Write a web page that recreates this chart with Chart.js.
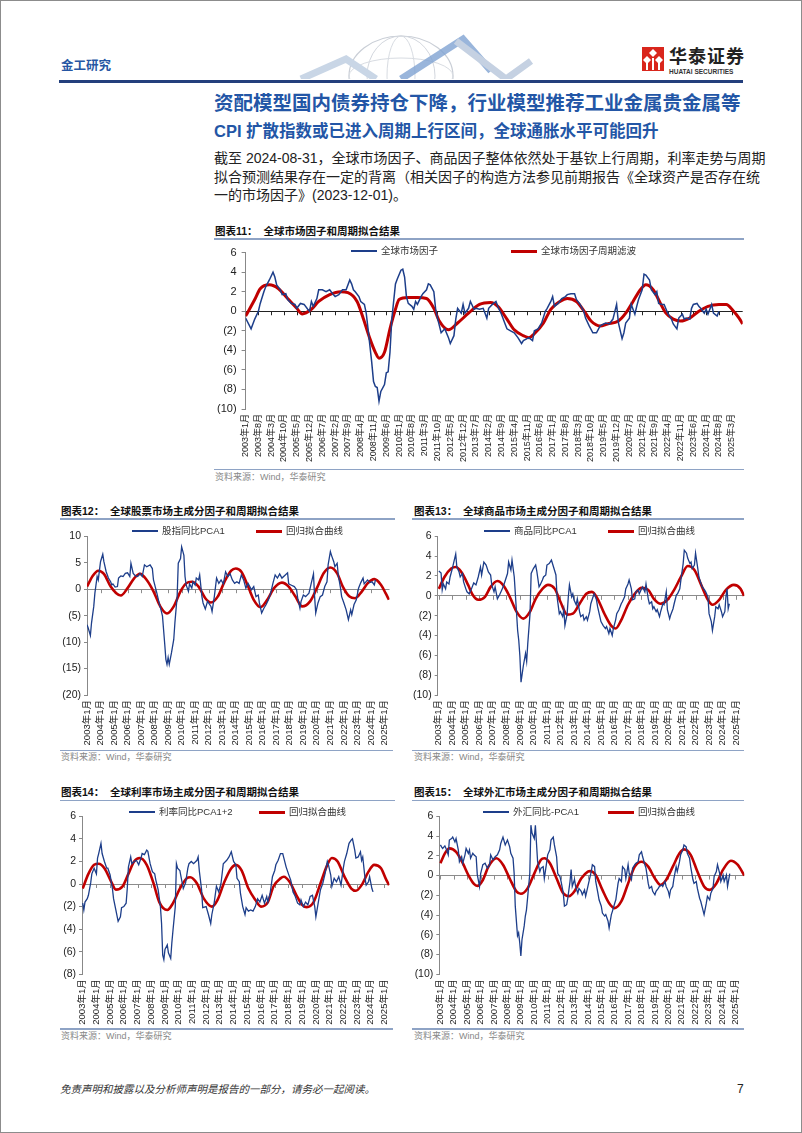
<!DOCTYPE html>
<html>
<head>
<meta charset="utf-8">
<script src="https://cdn.jsdelivr.net/npm/chart.js@4.4.1/dist/chart.umd.min.js"></script>
<style>
  body { margin: 0; background: #fff; }
  #page { position: relative; width: 800px; height: 1131px; border: 1px solid #8c8c8c; overflow: hidden;
          font-family: 'Liberation Sans', 'Noto Sans CJK SC', sans-serif; color: #222; }
  .t { position: absolute; white-space: nowrap; transform: translateY(-50%); line-height: 1.2; }
  .rule { position: absolute; background: #8ea3c5; height: 1.5px; }
  .ctitle { font-size: 10.5px; font-weight: 700; color: #111; }
  .src { font-size: 9px; color: #888; }
  .lg { position: absolute; height: 0; }
  .lgtext { font-size: 9.5px; color: #333; }
  canvas { position: absolute; }
</style>
</head>
<body>
<div id="page">
  <svg style="position:absolute;left:280px;top:25px" width="270" height="53">
    <ellipse cx="120" cy="50" rx="52" ry="40" fill="none" stroke="#c9ced6" stroke-width="1.2"/>
    <ellipse cx="120" cy="50" rx="34" ry="40" fill="none" stroke="#d3d7de" stroke-width="1"/>
    <ellipse cx="120" cy="50" rx="14" ry="40" fill="none" stroke="#d8dce2" stroke-width="1"/>
    <ellipse cx="120" cy="50" rx="52" ry="18" fill="none" stroke="#d8dce2" stroke-width="1"/>
    <polyline points="20,53 65,33 95,53" fill="none" stroke="#c9d6e6" stroke-width="7"/>
    <polyline points="120,53 182,13 210,45" fill="none" stroke="#7fa3d2" stroke-width="7" opacity="0.8"/>
    <polyline points="175,15 225,53 250,35" fill="none" stroke="#c5d1e2" stroke-width="7"/>
  </svg>
  <div class="t" style="left:60px;top:65px;font-size:12.5px;font-weight:700;color:#2656a3">金工研究</div>
  <svg style="position:absolute;left:641px;top:46px" width="22" height="24">
    <rect x="0" y="0" width="22" height="24" fill="#d9261c"/>
    <polygon points="11,2 15,6 11,10 7,6" fill="#fff"/>
    <polygon points="5,9 9,13 5,17 1,13" fill="#fff"/>
    <polygon points="17,9 21,13 17,17 13,13" fill="#fff"/>
    <rect x="10" y="11" width="2" height="12" fill="#fff"/>
    <rect x="4" y="16" width="2" height="7" fill="#fff"/>
    <rect x="16" y="16" width="2" height="7" fill="#fff"/>
  </svg>
  <div class="t" style="left:668px;top:57px;font-size:18px;font-weight:700;color:#222;letter-spacing:1px">华泰证券</div>
  <div class="t" style="left:668px;top:71px;font-size:6.5px;font-weight:700;color:#333">HUATAI SECURITIES</div>
  <div style="position:absolute;left:58px;top:78.5px;width:684px;height:3px;background:#233f7c"></div>

  <div class="t" style="left:213px;top:103px;font-size:19.5px;font-weight:700;color:#2356a6">资配模型国内债券持仓下降，行业模型推荐工业金属贵金属等</div>
  <div class="t" style="left:213px;top:131px;font-size:16.5px;font-weight:700;color:#2356a6">CPI 扩散指数或已进入周期上行区间，全球通胀水平可能回升</div>
  <div class="t" style="left:213px;top:157px;width:530px;font-size:14px;text-align:justify;text-align-last:justify">截至 2024-08-31，全球市场因子、商品因子整体依然处于基钦上行周期，利率走势与周期</div>
  <div class="t" style="left:213px;top:175.5px;width:530px;font-size:14px;text-align:justify;text-align-last:justify">拟合预测结果存在一定的背离（相关因子的构造方法参见前期报告《全球资产是否存在统</div>
  <div class="t" style="left:213px;top:194px;font-size:14px">一的市场因子》(2023-12-01)。</div>

  <div class="t ctitle" style="left:214px;top:229.5px">图表11：&nbsp;&nbsp;全球市场因子和周期拟合结果</div>
  <div class="rule" style="left:213px;top:237px;width:530px"></div>
  <div class="rule" style="left:213px;top:467.5px;width:530px"></div>
  <div class="t src" style="left:214px;top:476px">资料来源：Wind，华泰研究</div>

  <div class="t ctitle" style="left:60px;top:510px">图表12：&nbsp;&nbsp;全球股票市场主成分因子和周期拟合结果</div>
  <div class="rule" style="left:59px;top:517px;width:335px"></div>
  <div class="rule" style="left:59px;top:748.5px;width:333px"></div>
  <div class="t src" style="left:60px;top:756px">资料来源：Wind，华泰研究</div>

  <div class="t ctitle" style="left:413px;top:510px">图表13：&nbsp;&nbsp;全球商品市场主成分因子和周期拟合结果</div>
  <div class="rule" style="left:411px;top:517px;width:332px"></div>
  <div class="rule" style="left:411px;top:748.5px;width:332px"></div>
  <div class="t src" style="left:413px;top:756px">资料来源：Wind，华泰研究</div>

  <div class="t ctitle" style="left:60px;top:791px">图表14：&nbsp;&nbsp;全球利率市场主成分因子和周期拟合结果</div>
  <div class="rule" style="left:59px;top:798.5px;width:335px"></div>
  <div class="rule" style="left:59px;top:1027px;width:333px"></div>
  <div class="t src" style="left:60px;top:1035px">资料来源：Wind，华泰研究</div>

  <div class="t ctitle" style="left:413px;top:791px">图表15：&nbsp;&nbsp;全球外汇市场主成分因子和周期拟合结果</div>
  <div class="rule" style="left:411px;top:798.5px;width:332px"></div>
  <div class="rule" style="left:411px;top:1027px;width:332px"></div>
  <div class="t src" style="left:413px;top:1035px">资料来源：Wind，华泰研究</div>

  <div class="t" style="left:59px;top:1088px;font-size:10.5px;font-style:italic;color:#333">免责声明和披露以及分析师声明是报告的一部分，请务必一起阅读。</div>
  <div class="t" style="left:736px;top:1088px;font-size:12px;color:#222">7</div>

  <canvas id="c11"></canvas>
  <canvas id="c12"></canvas>
  <canvas id="c13"></canvas>
  <canvas id="c14"></canvas>
  <canvas id="c15"></canvas>
  <div id="legends"></div>
</div>

<script>
// x = months since 2003-01, y = factor value
const mktFactor = [[0,-0.7],[3,-1.8],[5,-0.8],[7,0],[8,0.8],[10,2.0],[11,2.5],[13,3.2],[15,4.0],[16,3.5],[17,2.7],[19,2.2],[20,1.7],[22,1.8],[23,1.2],[25,0.8],[27,0.7],[28,0.3],[30,0.8],[32,0.7],[34,0.2],[35,0],[36,1.0],[37,0.5],[39,1.3],[40,2.2],[42,2.2],[44,2.0],[46,2.2],[48,1.7],[49,1.5],[51,1.7],[53,2.2],[55,2.2],[57,3.2],[58,2.8],[59,2.2],[60,2.0],[62,1.5],[63,1.0],[65,0.7],[66,-0.2],[67,-1.8],[69,-5.2],[70,-7.2],[71,-7.7],[72,-7.8],[73,-9.2],[74,-8.2],[76,-7.5],[77,-6.3],[78,-6.2],[79,-4.2],[80,-0.8],[82,2.8],[83,3.3],[85,4.2],[86,4.3],[87,3.5],[88,1.5],[89,0.8],[91,0.5],[92,0.2],[93,1.0],[94,0.7],[96,1.5],[97,1.8],[99,2.2],[100,2.8],[101,2.7],[103,2.0],[104,0.2],[105,-0.7],[107,-2.2],[109,-1.8],[111,-2.7],[112,-3.3],[114,-2.5],[115,-0.8],[116,0.3],[118,-0.2],[119,0.7],[120,-0.2],[122,0.3],[123,1.0],[125,0.2],[126,0.3],[128,0.2],[130,0.3],[132,-0.7],[133,0.3],[135,0.7],[137,1.0],[138,0.5],[140,-0.3],[142,-1.3],[143,-1.8],[145,-2.0],[147,-2.2],[149,-2.7],[151,-3.3],[152,-3.0],[154,-2.8],[155,-2.7],[157,-3.0],[158,-2.0],[160,-1.8],[162,-1.2],[164,0],[165,0.3],[167,1.0],[168,1.5],[169,0.5],[171,0.8],[173,1.3],[175,1.5],[176,1.7],[178,1.8],[180,1.8],[181,1.2],[183,0.7],[185,0],[186,-0.7],[188,-1.5],[190,-2.2],[192,-2.2],[194,-1.5],[196,-1.3],[197,-1.2],[199,-1.3],[201,-0.8],[203,0.7],[204,-1.2],[206,-2.8],[207,-2.2],[208,-1.2],[210,-0.7],[211,0.7],[213,-0.3],[214,0.5],[215,1.2],[217,2.2],[218,3.8],[219,3.7],[221,3.2],[222,2.2],[224,1.7],[225,2.0],[226,0.8],[228,0.7],[229,0.7],[231,-0.2],[233,-0.8],[234,-1.3],[236,-1.8],[237,-0.7],[239,-0.3],[240,-0.8],[241,-0.7],[243,-0.8],[244,0.3],[245,0.7],[247,0.8],[248,0.5],[249,0.3],[251,-0.2],[252,0.2],[253,-0.3],[255,0.7],[256,-0.2],[258,-0.5],[259,0]];
const mktCycle = [[0,-0.5],[5,1.2],[8,2.3],[13,2.7],[18,2.3],[23,1.3],[28,0.3],[31,-0.27],[36,0.2],[40,1.0],[46,1.7],[52,2.0],[56,1.9],[61,1.0],[64,-0.5],[68,-2.8],[71,-4.2],[73,-4.8],[76,-4.2],[79,-1.8],[82,0.2],[84,1.2],[89,1.4],[94,1.4],[99,1.3],[103,0.3],[106,-1.0],[111,-1.9],[116,-1.2],[122,-0.2],[128,0.7],[134,0.9],[138,0.5],[143,-0.8],[147,-1.9],[152,-2.5],[155,-2.7],[158,-2.3],[163,-1.2],[167,0.2],[172,1.0],[176,1.3],[181,1.0],[186,-0.2],[189,-1.0],[194,-1.5],[198,-1.3],[204,-1.0],[208,-0.2],[212,1.0],[216,2.2],[219,2.7],[223,2.2],[227,0.8],[230,-0.2],[234,-0.8],[238,-1.0],[243,-0.7],[248,0],[253,0.5],[259,0.7],[263,0.7],[267,0],[270,-0.7],[272,-1.3]];

const stockPCA = [[0,-6.7],[1,-7.3],[3,-8.75],[4,-6.4],[6,-3.25],[7,-0.75],[9,2.4],[10,1.75],[12,5.2],[14,6.6],[15,5.2],[17,3.3],[19,2.1],[21,1.4],[22,0.8],[23,1.0],[25,0.4],[27,0.5],[28,2.1],[30,2.5],[32,2.4],[34,3.0],[36,3.1],[38,2.4],[39,4.9],[41,3.0],[43,2.5],[45,2.4],[47,3.0],[49,2.4],[51,4.6],[53,4.25],[56,4.6],[58,3.9],[59,1.75],[62,-0.75],[64,-2.6],[66,-4.2],[67,-5.1],[69,-10.4],[70,-13.25],[71,-14.2],[72,-12.9],[73,-14.2],[75,-12],[77,-9.5],[78,-6.4],[80,-1.4],[81,4.9],[83,5.8],[84,8.0],[86,6.4],[87,2.4],[88,0.8],[90,-0.4],[91,1.0],[93,0.2],[94,1.4],[96,0.8],[97,2.1],[99,1.75],[100,2.7],[102,-1.4],[103,-2.6],[105,-3.75],[107,-2.3],[110,-3.25],[111,-4.2],[113,-1.4],[115,2.1],[117,1.1],[119,1.75],[121,1.0],[123,3.3],[125,2.4],[127,2.9],[129,1.75],[131,1.1],[133,1.4],[135,1.1],[137,2.7],[139,1.75],[141,0.2],[143,1.1],[146,-0.1],[148,0.5],[150,-1.4],[152,-1.1],[153,-2.6],[155,-4.5],[157,-3.6],[159,-2.9],[161,-2.0],[163,-0.75],[165,1.1],[167,2.7],[169,2.1],[171,2.9],[173,2.1],[176,2.7],[178,3.1],[179,1.0],[181,0.8],[184,0.5],[186,-0.1],[187,-1.7],[189,-3.6],[190,-2.3],[192,-1.1],[194,-1.4],[197,-0.75],[199,1.1],[201,2.9],[202,-1.4],[203,-4.5],[205,-2.6],[207,-1.4],[209,-1.1],[211,0.5],[213,1.4],[214,4.6],[216,7.1],[217,6.4],[219,5.2],[220,4.25],[222,4.9],[223,2.7],[225,0.2],[226,-1.4],[228,-2.6],[230,-3.9],[232,-5.75],[234,-3.9],[235,-4.8],[237,-2.9],[239,-2.0],[241,0.2],[243,1.25],[245,2.1],[246,1.0],[249,1.75],[251,1.25],[253,1.4],[255,0.8],[256,1.75]];
const stockCycle = [[0,0.5],[5,2.5],[10,3.5],[15,2.9],[21,0.5],[26,-0.75],[30,-1.2],[36,0.2],[42,2.1],[47,2.9],[53,1.75],[59,-0.4],[65,-3.25],[71,-4.6],[77,-3.25],[83,-0.4],[88,1.1],[93,1.4],[99,0.5],[105,-1.7],[110,-2.5],[116,-1.4],[122,1.4],[128,3.5],[132,3.9],[137,3.3],[143,0.5],[148,-2.0],[154,-3.4],[160,-2.0],[166,0.2],[173,1.25],[179,0.5],[185,-1.4],[191,-3.25],[198,-2.3],[204,0.2],[210,3.0],[216,4.1],[222,3.0],[227,0.5],[233,-1.4],[238,-1.7],[244,-0.4],[249,1.1],[255,1.9],[261,0.8],[265,-0.75],[268,-2.0]];

const commodityPCA = [[0,2.5],[2,2.3],[3,0.6],[4,1.2],[6,0.7],[7,1.4],[9,1.2],[10,1.9],[12,2.75],[13,3.25],[15,4.2],[16,2.9],[18,2.4],[19,1.9],[21,2.25],[22,1.4],[24,0.7],[25,0.4],[27,0.2],[29,0.7],[31,1.3],[33,1.1],[35,1.9],[37,2.9],[38,2.1],[40,3.4],[42,3.1],[44,2.4],[46,2.1],[47,1.1],[49,0.4],[50,0.9],[52,-0.3],[54,0.1],[56,0.6],[58,1.2],[61,2.25],[62,3.4],[64,2.6],[65,3.6],[67,1.9],[68,0.1],[70,-3.5],[71,-4.5],[72,-6.1],[73,-8.7],[75,-7.1],[77,-5.8],[78,-6.6],[79,-4.8],[81,-1.8],[82,2.25],[84,2.75],[86,3.1],[87,2.5],[89,0.9],[90,1.1],[92,1.6],[93,1.9],[95,2.1],[96,3.1],[98,3.25],[100,3.6],[102,2.85],[104,2.1],[105,-0.1],[107,-1.8],[108,-1.6],[110,-2.1],[111,-1.4],[112,-3.0],[114,-1.8],[115,-0.1],[116,1.1],[118,-0.1],[119,0.2],[120,-0.4],[122,-0.9],[123,-0.3],[125,-1.6],[126,-2.1],[128,-1.9],[129,-2.45],[131,-2.1],[132,-2.45],[134,-1.6],[135,-0.8],[137,-0.1],[138,0.2],[140,-0.4],[141,-1.1],[143,-2.1],[144,-2.6],[146,-3.0],[148,-3.3],[149,-3.1],[151,-3.8],[152,-3.3],[154,-4.0],[155,-3.3],[157,-2.45],[158,-1.8],[160,-1.4],[162,-0.8],[163,-0.6],[165,-0.1],[166,0.7],[168,1.2],[169,1.6],[171,0.7],[172,-0.4],[174,-0.3],[175,0.4],[177,0.6],[178,0.2],[180,0.7],[181,0.9],[183,0.4],[184,1.2],[186,-0.3],[187,-0.8],[189,-0.6],[190,-1.3],[191,-1.1],[193,-1.6],[194,-1.4],[196,-2.1],[197,-1.6],[199,-0.8],[200,-0.9],[202,0.4],[203,-1.4],[205,-2.3],[206,-1.9],[208,-1.3],[209,-0.8],[211,0.1],[212,0.2],[214,0.7],[215,1.6],[217,3.25],[218,4.6],[220,4.3],[221,3.8],[223,3.25],[224,3.4],[225,2.75],[227,3.1],[228,4.3],[230,2.75],[231,1.9],[233,1.2],[234,0.9],[236,0.6],[237,0.4],[239,-0.1],[240,-1.8],[242,-2.6],[243,-3.5],[245,-2.1],[246,-1.1],[248,-1.3],[249,-0.9],[251,-1.6],[252,-2.1],[254,-1.6],[255,-0.1],[256,0.7],[257,-1.3],[258,-0.8]];
const commodityCycle = [[0,0.7],[5,1.9],[11,2.75],[15,2.9],[20,2.4],[26,1.1],[30,0.1],[35,-0.4],[41,-0.1],[46,0.9],[52,1.5],[57,1.1],[63,-0.1],[69,-1.6],[75,-2.3],[81,-1.6],[86,-0.3],[92,0.7],[97,1.1],[103,0.7],[108,-0.6],[114,-1.9],[119,-1.8],[125,-0.8],[131,0.2],[136,0.4],[141,-0.3],[147,-1.8],[153,-3.0],[157,-3.3],[162,-2.45],[168,-0.9],[174,0.2],[180,0.8],[186,0.6],[191,-0.3],[197,-0.8],[203,-0.4],[209,0.6],[215,1.9],[221,3.0],[227,2.6],[233,1.1],[239,-0.4],[243,-0.9],[249,-0.4],[255,0.6],[262,1.1],[268,0.7],[271,0]];

const ratePCA = [[0,-1.7],[1,-2.3],[2,-1.6],[4,-1.3],[5,-1.0],[7,0.1],[8,0.9],[10,1.4],[12,0.9],[13,2.3],[14,2.7],[16,3.6],[17,2.7],[19,2.0],[21,1.4],[22,1.4],[24,0.8],[26,-0.4],[27,-1.3],[29,-2.3],[31,-3.3],[33,-2.9],[34,-2.1],[36,-2.0],[38,-1.7],[39,-0.4],[40,1.5],[42,2.4],[43,1.8],[45,2.0],[47,2.1],[49,1.7],[51,2.3],[52,2.7],[54,2.6],[56,3.0],[57,2.9],[59,1.8],[61,1.1],[63,0.9],[64,0.35],[66,-0.5],[68,-2.0],[69,-3.5],[70,-6.3],[71,-6.7],[72,-5.8],[74,-5.4],[75,-6.1],[77,-6.6],[78,-5.2],[79,-4.1],[81,-2.0],[82,1.8],[83,1.4],[85,1.2],[86,0.65],[88,-0.4],[90,0.1],[92,1.4],[93,1.8],[95,2.0],[97,1.8],[100,2.1],[101,2.4],[102,1.2],[104,-0.5],[105,-2.1],[108,-2.0],[110,-2.7],[112,-3.5],[113,-2.7],[115,-1.7],[117,-0.2],[119,-0.7],[121,0.05],[123,1.8],[126,2.1],[128,2.4],[130,2.85],[132,2.0],[134,1.7],[135,0.5],[137,0.2],[138,-0.8],[140,-2.0],[142,-2.7],[143,-2.1],[145,-2.4],[147,-2.3],[149,-2.4],[151,-2.0],[153,-1.3],[155,-1.6],[157,-1.0],[159,-1.7],[161,-1.1],[162,-1.6],[164,-0.8],[166,0.65],[168,1.2],[169,1.7],[171,2.1],[173,2.7],[175,2.7],[176,2.3],[178,1.5],[180,0.9],[182,0.35],[184,-0.7],[186,-1.1],[188,-1.7],[190,-1.85],[191,-1.4],[193,-2.0],[195,-1.6],[197,-1.85],[199,-1.1],[201,-1.0],[203,-2.0],[204,-2.9],[206,-1.7],[208,-0.5],[210,0.05],[212,0.9],[214,2.0],[215,1.7],[217,0.8],[218,-0.2],[220,0.5],[222,0.2],[224,0.65],[226,-0.1],[228,1.4],[229,2.0],[231,2.7],[233,3.6],[235,3.9],[236,4.0],[238,3.0],[239,2.3],[241,2.4],[243,2.85],[244,2.1],[245,2.4],[247,0.5],[248,-0.1],[250,0.2],[251,0.65],[253,-0.4],[254,-0.7]];
const rateCycle = [[0,-0.4],[5,0.9],[10,1.7],[14,1.8],[19,1.4],[25,0.2],[29,-0.5],[35,-0.2],[40,0.9],[45,2.0],[50,2.3],[56,1.7],[62,0.05],[67,-1.6],[74,-2.3],[79,-1.7],[85,-0.4],[91,0.5],[94,0.6],[100,0.05],[106,-1.3],[113,-2.0],[118,-1.4],[124,0.2],[130,1.4],[134,1.7],[139,1.2],[145,-0.4],[151,-1.4],[156,-2.0],[162,-1.6],[167,-0.2],[173,0.5],[176,0.65],[181,0.2],[187,-1.0],[192,-1.85],[196,-2.05],[202,-1.6],[208,0.05],[214,1.7],[218,2.3],[223,2.0],[229,0.65],[235,-0.4],[239,-0.6],[244,-0.1],[250,1.1],[255,1.7],[261,1.4],[265,0.5],[268,-0.1]];

const fxPCA = [[0,3.1],[1,2.9],[2,2.75],[4,3.0],[5,2.75],[7,2.1],[8,3.6],[10,3.75],[11,3.9],[13,3.4],[14,3.75],[16,2.6],[17,1.4],[19,1.9],[20,1.25],[22,2.1],[23,2.75],[25,2.25],[26,2.6],[27,1.75],[29,2.25],[30,2.1],[32,1.9],[33,0.1],[35,-1.1],[36,0.2],[38,1.1],[40,1.25],[42,0.75],[44,1.1],[45,2.1],[47,1.6],[49,1.9],[51,2.1],[53,2.6],[54,3.25],[56,3.9],[58,3.1],[60,3.6],[62,2.9],[63,2.25],[65,1.75],[66,0.2],[67,-3.1],[69,-6.1],[70,-5.8],[71,-6.8],[72,-8.15],[73,-6.5],[75,-5.1],[76,-4.1],[77,-3.5],[78,-2.3],[80,0.2],[81,5.1],[82,4.3],[84,3.75],[85,5.1],[86,3.25],[87,1.4],[89,0.4],[90,0.75],[92,0.9],[93,-0.3],[95,1.25],[96,2.1],[98,2.6],[99,3.6],[101,3.9],[102,3.1],[104,1.9],[105,0.2],[107,-0.1],[108,-0.6],[110,-1.8],[111,-3.1],[113,-2.95],[114,-2.3],[116,-0.6],[117,0.6],[118,-1.1],[120,-0.4],[121,-1.1],[123,-1.8],[124,-1.3],[126,-1.6],[127,-1.95],[129,-1.45],[130,-2.1],[132,-1.1],[133,-0.6],[135,0.4],[136,1.1],[138,0.9],[139,-0.6],[141,-1.8],[142,-2.45],[144,-3.1],[145,-3.8],[147,-4.1],[148,-3.95],[150,-4.6],[151,-5.3],[153,-3.95],[154,-3.6],[156,-2.8],[157,-2.45],[159,-0.8],[160,-0.3],[162,-0.6],[163,0.9],[165,0.6],[166,-0.3],[168,1.1],[169,0.2],[171,-0.4],[172,0.75],[174,1.1],[175,1.25],[177,1.4],[178,2.1],[180,2.4],[181,1.9],[183,1.1],[184,0.75],[186,-0.8],[187,-1.3],[189,-1.1],[190,-1.6],[192,-1.95],[193,-1.6],[195,-1.3],[196,-1.1],[198,-0.95],[199,-1.1],[201,-0.6],[202,-1.1],[204,-1.6],[205,-2.1],[206,-1.45],[208,-1.1],[209,-0.3],[211,0.9],[212,0.4],[214,1.4],[215,2.1],[217,2.6],[218,3.1],[220,2.9],[221,2.25],[223,1.75],[224,0.9],[226,-0.4],[227,-0.8],[229,-0.6],[230,-1.3],[232,-2.3],[233,-2.6],[235,-3.5],[236,-3.95],[238,-2.8],[239,-2.1],[241,-2.45],[242,-1.8],[244,-1.3],[245,-0.1],[247,0.4],[248,1.1],[250,0.2],[251,-0.6],[253,0.05],[254,-0.6],[256,0.05],[257,-1.1],[259,0.2]];
const fxCycle = [[0,1.25],[4,2.25],[8,2.75],[14,2.4],[20,1.25],[25,0.05],[30,-0.85],[33,-1.05],[38,-0.45],[43,0.9],[50,1.75],[56,1.1],[62,-0.3],[68,-1.6],[72,-1.85],[78,-1.3],[84,0.2],[90,1.6],[93,1.75],[98,1.25],[104,-0.3],[110,-1.8],[115,-2.1],[120,-1.6],[126,-0.3],[132,0.4],[134,0.45],[139,0.05],[145,-1.45],[151,-2.8],[156,-3.3],[162,-2.6],[168,-0.8],[174,0.9],[180,1.4],[186,0.9],[192,-0.3],[197,-0.95],[202,-0.45],[208,0.9],[214,2.25],[218,2.65],[224,2.1],[230,0.4],[236,-1.1],[241,-1.45],[247,-0.8],[253,0.6],[260,1.5],[266,1.1],[272,0]];

const xLabels11 = ['2003年1月','2003年8月','2004年3月','2004年10月','2005年5月','2005年12月','2006年7月','2007年2月','2007年9月','2008年4月','2008年11月','2009年6月','2010年1月','2010年8月','2011年3月','2011年10月','2012年5月','2012年12月','2013年7月','2014年2月','2014年9月','2015年4月','2015年11月','2016年6月','2017年1月','2017年8月','2018年3月','2018年10月','2019年5月','2019年12月','2020年7月','2021年2月','2021年9月','2022年4月','2022年11月','2023年6月','2024年1月','2024年8月','2025年3月'];
const xLabelsYear = ['2003年1月','2004年1月','2005年1月','2006年1月','2007年1月','2008年1月','2009年1月','2010年1月','2011年1月','2012年1月','2013年1月','2014年1月','2015年1月','2016年1月','2017年1月','2018年1月','2019年1月','2020年1月','2021年1月','2022年1月','2023年1月','2024年1月','2025年1月'];

const BLUE = '#1d3e8a';
const RED = '#c00000';
const FONT = "'Liberation Sans', 'Noto Sans CJK SC', sans-serif";

function pts(arr) {
  return arr.map(p => ({ x: p[0], y: p[1] }));
}

function yLabel(v) {
  return v < 0 ? '(' + (-v) + ')' : String(v);
}

const zeroTicks = {
  id: 'zeroTicks',
  beforeDatasetsDraw(chart, args, opts) {
    const { ctx, scales: { x, y } } = chart;
    const y0 = y.getPixelForValue(0);
    ctx.save();
    ctx.strokeStyle = opts.color;
    ctx.lineWidth = 1;
    ctx.beginPath();
    x.ticks.forEach(t => {
      const px = Math.round(x.getPixelForValue(t.value)) + 0.5;
      ctx.moveTo(px, y0);
      ctx.lineTo(px, y0 + 4);
    });
    ctx.stroke();
    ctx.restore();
  }
};

function drawChart(c) {
  const cv = document.getElementById(c.id);
  const b = c.box, p = c.plot;
  cv.width = b.w;
  cv.height = b.h;
  cv.style.left = b.x + 'px';
  cv.style.top = b.y + 'px';
  cv.style.width = b.w + 'px';
  cv.style.height = b.h + 'px';

  const yTicks = [];
  for (let v = c.yMin; v <= c.yMax; v += c.yStep) yTicks.push(v);
  const xTicks = c.labels.map((_, i) => i * c.xStep);

  return new Chart(cv, {
    type: 'line',
    data: {
      datasets: [
        { label: c.names[0], data: pts(c.blue), borderColor: BLUE, borderWidth: c.blueWidth, pointRadius: 0, tension: 0, fill: false },
        { label: c.names[1], data: pts(c.red), borderColor: RED, borderWidth: c.redWidth, pointRadius: 0, cubicInterpolationMode: 'monotone', fill: false }
      ]
    },
    options: {
      responsive: false,
      animation: false,
      layout: { padding: { left: 0, bottom: 0, top: p.t - b.y, right: b.x + b.w - p.r } },
      plugins: {
        legend: { display: false },
        tooltip: { enabled: false },
        zeroTicks: { color: c.zeroColor }
      },
      scales: {
        x: {
          type: 'linear',
          bounds: 'data',
          min: c.xMin,
          max: c.xMax,
          afterBuildTicks: s => { s.ticks = xTicks.map(v => ({ value: v })); },
          afterFit: s => { s.height = b.y + b.h - p.b; },
          grid: { display: false, drawTicks: false },
          border: { display: false },
          ticks: {
            autoSkip: false,
            minRotation: 90,
            maxRotation: 90,
            padding: 5,
            color: '#222',
            font: { family: FONT, size: c.xFont },
            callback: v => c.labels[Math.round(v / c.xStep)]
          }
        },
        y: {
          min: c.yMin,
          max: c.yMax,
          afterBuildTicks: s => { s.ticks = yTicks.map(v => ({ value: v })); },
          afterFit: s => { s.width = p.l - b.x; },
          grid: {
            color: ctx => (ctx.tick && ctx.tick.value === 0 ? c.zeroColor : 'rgba(0,0,0,0)'),
            tickColor: '#888',
            tickLength: c.tickLen,
            lineWidth: 1
          },
          border: { display: true, color: '#888' },
          ticks: {
            padding: c.tickPad,
            color: '#222',
            font: { family: FONT, size: c.yFont },
            callback: v => yLabel(v)
          }
        }
      }
    },
    plugins: [zeroTicks]
  });
}

function legend(y, blueX, blueText, redX, redText) {
  const box = document.getElementById('legends');
  const items = [[blueX, BLUE, 2, blueText], [redX, RED, 3, redText]];
  items.forEach(it => {
    const line = document.createElement('div');
    line.style.cssText = `position:absolute;left:${it[0]}px;top:${y - it[2] / 2}px;width:26px;height:${it[2]}px;background:${it[1]}`;
    box.appendChild(line);
    const txt = document.createElement('div');
    txt.className = 't lgtext';
    txt.style.left = (it[0] + 30) + 'px';
    txt.style.top = y + 'px';
    txt.textContent = it[3];
    box.appendChild(txt);
  });
}

drawChart({
  id: 'c11', box: { x: 200, y: 240, w: 552, h: 226 }, plot: { l: 244.6, r: 741.7, t: 248.3, b: 408 },
  yMin: -10, yMax: 6, yStep: 2, xMin: 0, xMax: 272, xStep: 7, labels: xLabels11,
  blue: mktFactor, red: mktCycle, names: ['全球市场因子', '全球市场因子周期滤波'],
  blueWidth: 1.5, redWidth: 3, zeroColor: '#222', xFont: 9, yFont: 11, tickLen: 4, tickPad: 5
});
drawChart({
  id: 'c12', box: { x: 40, y: 526, w: 360, h: 222 }, plot: { l: 86, r: 391.7, t: 534.3, b: 694 },
  yMin: -20, yMax: 10, yStep: 5, xMin: 0, xMax: 268.5, xStep: 12, labels: xLabelsYear,
  blue: stockPCA, red: stockCycle, names: ['股指同比PCA1', '回归拟合曲线'],
  blueWidth: 1.3, redWidth: 2.6, zeroColor: '#8c8c8c', xFont: 9.5, yFont: 10.5, tickLen: 3, tickPad: 3
});
drawChart({
  id: 'c13', box: { x: 400, y: 526, w: 352, h: 222 }, plot: { l: 436.7, r: 743.3, t: 534.3, b: 694 },
  yMin: -10, yMax: 6, yStep: 2, xMin: -1, xMax: 271.3, xStep: 12, labels: xLabelsYear,
  blue: commodityPCA, red: commodityCycle, names: ['商品同比PCA1', '回归拟合曲线'],
  blueWidth: 1.3, redWidth: 2.6, zeroColor: '#8c8c8c', xFont: 9.5, yFont: 10.5, tickLen: 3, tickPad: 3
});
drawChart({
  id: 'c14', box: { x: 40, y: 806, w: 360, h: 220 }, plot: { l: 81, r: 391.7, t: 814.3, b: 973.3 },
  yMin: -8, yMax: 6, yStep: 2, xMin: -0.6, xMax: 268.3, xStep: 12, labels: xLabelsYear,
  blue: ratePCA, red: rateCycle, names: ['利率同比PCA1+2', '回归拟合曲线'],
  blueWidth: 1.3, redWidth: 2.6, zeroColor: '#8c8c8c', xFont: 9.5, yFont: 10.5, tickLen: 3, tickPad: 3
});
drawChart({
  id: 'c15', box: { x: 400, y: 806, w: 352, h: 220 }, plot: { l: 438.3, r: 743.3, t: 814.3, b: 973.3 },
  yMin: -10, yMax: 6, yStep: 2, xMin: -1, xMax: 272, xStep: 12, labels: xLabelsYear,
  blue: fxPCA, red: fxCycle, names: ['外汇同比-PCA1', '回归拟合曲线'],
  blueWidth: 1.3, redWidth: 2.6, zeroColor: '#8c8c8c', xFont: 9.5, yFont: 10.5, tickLen: 3, tickPad: 3
});

legend(250, 350, '全球市场因子', 510, '全球市场因子周期滤波');
legend(530, 131, '股指同比PCA1', 255, '回归拟合曲线');
legend(530, 483, '商品同比PCA1', 607, '回归拟合曲线');
legend(811, 128, '利率同比PCA1+2', 258, '回归拟合曲线');
legend(811, 482, '外汇同比-PCA1', 607, '回归拟合曲线');
</script>
</body>
</html>
